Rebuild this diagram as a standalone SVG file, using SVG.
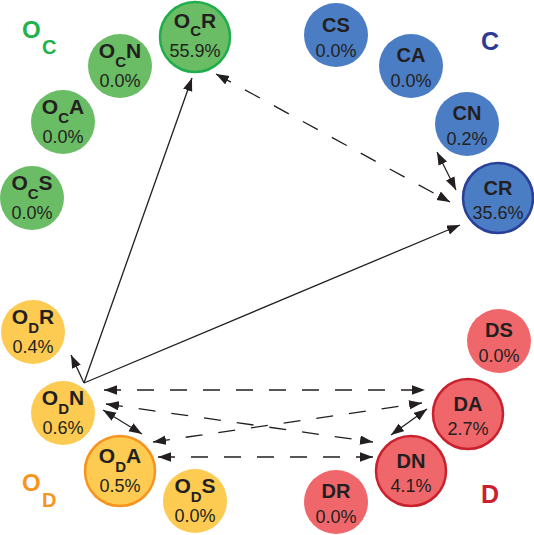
<svg xmlns="http://www.w3.org/2000/svg" width="534" height="535" viewBox="0 0 534 535">
<style>
.g{fill:#6abd64}
.b{fill:#4b7dc4}
.y{fill:#fdcb52}
.r{fill:#f0676b}
.nm{font-family:"Liberation Sans",Arial,sans-serif;font-weight:bold;font-size:20px;fill:#231f20;text-anchor:middle}
.sn{font-size:21px}
.sb{font-size:15px}
.pc{font-family:"Liberation Sans",Arial,sans-serif;font-size:18px;fill:#231f20;text-anchor:middle}
.lb{font-family:"Liberation Sans",Arial,sans-serif;font-weight:bold}
.sl{stroke:#231f20;stroke-width:1.3;fill:none;marker-end:url(#ah)}
.dl{stroke:#231f20;stroke-width:1.3;fill:none;stroke-dasharray:17 16;marker-start:url(#ah);marker-end:url(#ah)}
.bl{stroke:#231f20;stroke-width:1.3;fill:none;marker-start:url(#ah);marker-end:url(#ah)}
</style>
<defs>
<marker id="ah" markerUnits="userSpaceOnUse" markerWidth="14" markerHeight="10" refX="13" refY="4.75" orient="auto-start-reverse" viewBox="0 0 14 10">
<path d="M0,0 L13,4.75 L0,9.5 z" fill="#231f20"/>
</marker>
</defs>
<g id="labels">
<text class="lb" x="22" y="38" font-size="24" fill="#22b24c">O<tspan x="42" y="54" font-size="20">C</tspan></text>
<text class="lb" x="481" y="50" font-size="25" fill="#2e3b96">C</text>
<text class="lb" x="22" y="491" font-size="24" fill="#f7941d">O<tspan x="42" y="507" font-size="20">D</tspan></text>
<text class="lb" x="481" y="503" font-size="25" fill="#cb2030">D</text>
</g>
<g id="connectors">
<line class="sl" x1="84" y1="383" x2="192" y2="78"/>
<line class="sl" x1="84" y1="383" x2="460" y2="225"/>
<line class="sl" x1="84" y1="383" x2="71" y2="355"/>
<line class="dl" x1="216" y1="74" x2="450" y2="202"/>
<line class="dl" x1="104" y1="390" x2="425" y2="390"/>
<line class="dl" x1="106" y1="404" x2="373" y2="442"/>
<line class="dl" x1="153" y1="442" x2="422" y2="403"/>
<line class="dl" x1="158" y1="457" x2="373" y2="457"/>
<line class="bl" x1="437" y1="152" x2="456" y2="190"/>
<line class="bl" x1="103" y1="410" x2="142" y2="434"/>
<line class="bl" x1="427" y1="409" x2="391" y2="435"/>
</g>
<g id="OcR"><circle class="g" cx="195" cy="37" r="35" stroke="#1fae4b" stroke-width="2.5"/><text class="nm sn" x="195" y="28">O<tspan class="sb" dy="8">C</tspan><tspan dy="-8">R</tspan></text><text class="pc" x="195" y="57">55.9%</text></g>
<g id="OcN"><circle class="g" cx="120" cy="66" r="32"/><text class="nm sn" x="120" y="58">O<tspan class="sb" dy="9">C</tspan><tspan dy="-9">N</tspan></text><text class="pc" x="120" y="87">0.0%</text></g>
<g id="OcA"><circle class="g" cx="63" cy="122" r="32"/><text class="nm sn" x="63" y="114">O<tspan class="sb" dy="9">C</tspan><tspan dy="-9">A</tspan></text><text class="pc" x="63" y="143">0.0%</text></g>
<g id="OcS"><circle class="g" cx="32" cy="198" r="32"/><text class="nm sn" x="32" y="190">O<tspan class="sb" dy="9">C</tspan><tspan dy="-9">S</tspan></text><text class="pc" x="32" y="219">0.0%</text></g>
<g id="CS"><circle class="b" cx="336" cy="35" r="32"/><text class="nm" x="336" y="32">CS</text><text class="pc" x="336" y="57">0.0%</text></g>
<g id="CA"><circle class="b" cx="411" cy="66" r="32"/><text class="nm" x="411" y="62">CA</text><text class="pc" x="411" y="87">0.0%</text></g>
<g id="CN"><circle class="b" cx="467" cy="124" r="32"/><text class="nm" x="467" y="120">CN</text><text class="pc" x="467" y="145">0.2%</text></g>
<g id="CR"><circle class="b" cx="498" cy="198" r="35" stroke="#2a3f97" stroke-width="2.5"/><text class="nm" x="498" y="195">CR</text><text class="pc" x="498" y="219">35.6%</text></g>
<g id="OdR"><circle class="y" cx="33" cy="332" r="32"/><text class="nm sn" x="33" y="324">O<tspan class="sb" dy="9">D</tspan><tspan dy="-9">R</tspan></text><text class="pc" x="33" y="353">0.4%</text></g>
<g id="OdN"><circle class="y" cx="63" cy="413" r="32"/><text class="nm sn" x="63" y="405">O<tspan class="sb" dy="9">D</tspan><tspan dy="-9">N</tspan></text><text class="pc" x="63" y="434">0.6%</text></g>
<g id="OdA"><circle class="y" cx="120" cy="471" r="35" stroke="#f7931e" stroke-width="2.5"/><text class="nm sn" x="120" y="463">O<tspan class="sb" dy="9">D</tspan><tspan dy="-9">A</tspan></text><text class="pc" x="120" y="492">0.5%</text></g>
<g id="OdS"><circle class="y" cx="195" cy="501" r="32"/><text class="nm sn" x="195" y="493">O<tspan class="sb" dy="9">D</tspan><tspan dy="-9">S</tspan></text><text class="pc" x="195" y="522">0.0%</text></g>
<g id="DS"><circle class="r" cx="499" cy="341" r="32"/><text class="nm" x="499" y="337">DS</text><text class="pc" x="499" y="362">0.0%</text></g>
<g id="DA"><circle class="r" cx="468" cy="414" r="35" stroke="#c9222e" stroke-width="2.5"/><text class="nm" x="468" y="411">DA</text><text class="pc" x="468" y="435">2.7%</text></g>
<g id="DN"><circle class="r" cx="411" cy="471" r="35" stroke="#c9222e" stroke-width="2.5"/><text class="nm" x="411" y="468">DN</text><text class="pc" x="411" y="492">4.1%</text></g>
<g id="DR"><circle class="r" cx="336" cy="502" r="32"/><text class="nm" x="336" y="498">DR</text><text class="pc" x="336" y="523">0.0%</text></g>
</svg>
